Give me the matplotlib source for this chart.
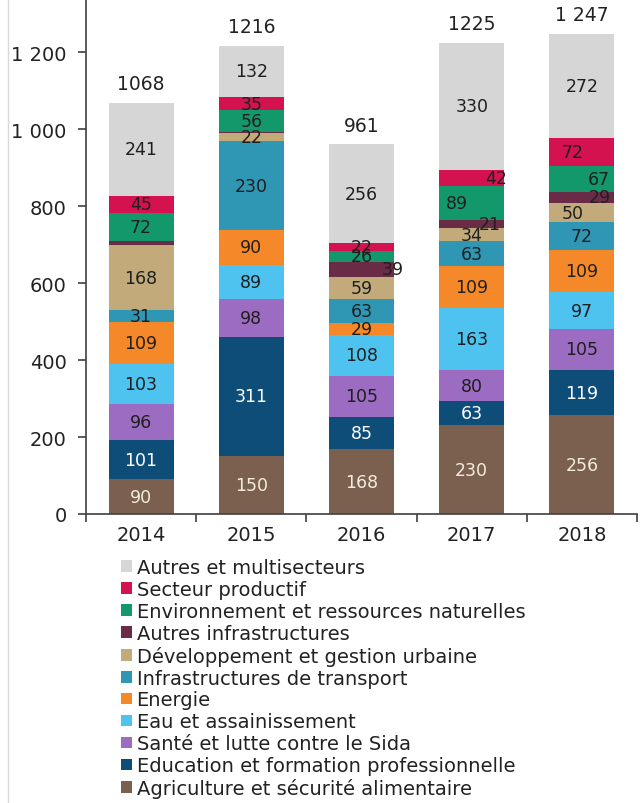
import matplotlib
matplotlib.use("Agg")
import matplotlib.pyplot as plt
from matplotlib.patches import Patch
from matplotlib.ticker import FuncFormatter, FixedLocator

plt.rcParams['font.family'] = ['DejaVu Sans']

# ── Data (bottom to top of each stack) ─────────────────────────────────────────
years = ["2014", "2015", "2016", "2017", "2018"]
sectors = [
    "Agriculture et sécurité alimentaire",
    "Education et formation professionnelle",
    "Santé et lutte contre le Sida",
    "Eau et assainissement",
    "Energie",
    "Infrastructures de transport",
    "Développement et gestion urbaine",
    "Autres infrastructures",
    "Environnement et ressources naturelles",
    "Secteur productif",
    "Autres et multisecteurs",
]
agriculture   = [90, 150, 168, 230, 256]
education     = [101, 311, 85, 63, 119]
sante         = [96, 98, 105, 80, 105]
eau           = [103, 89, 108, 163, 97]
energie       = [109, 90, 29, 109, 109]
transport     = [31, 230, 63, 63, 72]
urbain        = [168, 22, 59, 34, 50]
autres_infra  = [12, 3, 39, 21, 29]
environnement = [72, 56, 26, 89, 67]
productif     = [45, 35, 22, 42, 72]
autres        = [241, 132, 256, 330, 272]
totals        = ["1068", "1216", "961", "1225", "1 247"]

colors = ["#7b5f4f", "#0d4d78", "#9b6cc2", "#4ec3ef", "#f5892a",
          "#2f97b3", "#c2aa7a", "#6a2b47", "#13986b", "#d4124f", "#d6d6d6"]
label_colors = ["#f4ecdc", "#ffffff"] + ["#1f1f1f"] * 9

# manual horizontal nudges of crowded labels (year index, sector index) -> x offset
nudges = {(2, 7): 0.28, (3, 9): 0.22, (3, 8): -0.13, (3, 7): 0.16,
          (4, 9): -0.08, (4, 8): 0.15, (4, 7): 0.16, (4, 6): -0.08}

series = [agriculture, education, sante, eau, energie, transport,
          urbain, autres_infra, environnement, productif, autres]

# ── Plot ───────────────────────────────────────────────────────────────────────
fig = plt.figure(figsize=(6.4, 8.04), dpi=100)
ax = fig.add_axes([86 / 640, 1 - 515 / 804, 551 / 640, 515 / 804])

x = range(len(years))
width = 0.59
bottom = [0] * len(years)
for si, vals in enumerate(series):
    ax.bar(x, vals, width, bottom=bottom, color=colors[si], edgecolor="none")
    for yi, v in enumerate(vals):
        if v >= 15:
            dx = nudges.get((yi, si), 0)
            ax.text(yi + dx, bottom[yi] + v / 2, str(v), ha="center", va="center",
                    fontsize=12.5, color=label_colors[si])
    bottom = [b + v for b, v in zip(bottom, vals)]

for yi, t in enumerate(totals):
    ax.annotate(t, (yi, bottom[yi]), xytext=(0, 7), textcoords="offset points",
                ha="center", va="bottom", fontsize=13.5, color="#222222")

ax.set_xlim(-0.5, len(years) - 0.5)
ax.set_ylim(0, 1338)
ax.set_yticks(range(0, 1201, 200))
ax.yaxis.set_major_formatter(FuncFormatter(lambda v, p: f"{int(v):,}".replace(",", " ")))
ax.set_xticks(list(x))
ax.set_xticklabels(years)
ax.xaxis.set_minor_locator(FixedLocator([i - 0.5 for i in range(len(years) + 1)]))
ax.tick_params(axis="x", which="major", length=0, pad=8, labelsize=14, labelcolor="#222222")
ax.tick_params(axis="x", which="minor", length=6, direction="out", color="#404040", width=1.2)
ax.tick_params(axis="y", length=6, direction="out", color="#404040", width=1.2,
               pad=8, labelsize=14, labelcolor="#222222")
for s in ["top", "right"]:
    ax.spines[s].set_visible(False)
for s in ["left", "bottom"]:
    ax.spines[s].set_color("#404040")
    ax.spines[s].set_linewidth(1.2)

# thin frame line on the left edge
fig.add_artist(plt.Line2D([8 / 640, 8 / 640], [0, 1], color="#d8d8d8", lw=1))

# ── Legend ─────────────────────────────────────────────────────────────────────
handles = [Patch(facecolor=colors[i], edgecolor="none", label=sectors[i])
           for i in range(len(sectors) - 1, -1, -1)]
fig.legend(handles=handles, loc="upper left", bbox_to_anchor=(121 / 640, 1 - 559 / 804),
           frameon=False, fontsize=14, handlelength=0.55, handleheight=0.55,
           handletextpad=0.25, labelspacing=0.15, borderpad=0, borderaxespad=0,
           labelcolor="#222222")

fig.savefig("out.png", dpi=100)
